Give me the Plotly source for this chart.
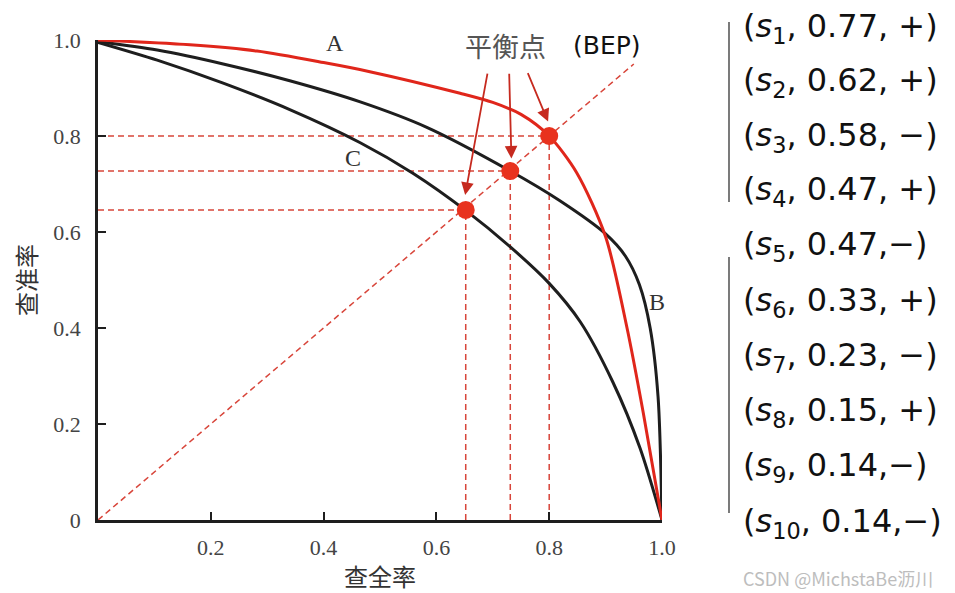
import plotly.graph_objects as go

# PR curves (recall, precision)
recall_a = [0, 0.163, 0.282, 0.4, 0.482, 0.642, 0.70, 0.75, 0.80, 0.849, 0.9, 0.938, 0.967, 1.0]
prec_a = [1.0, 0.99, 0.977, 0.953, 0.934, 0.889, 0.870, 0.845, 0.80, 0.723, 0.59, 0.40, 0.222, 0.0]

recall_b = [0, 0.105, 0.222, 0.34, 0.465, 0.583, 0.731, 0.819, 0.9, 0.935, 0.96, 0.979, 0.993, 1.0]
prec_b = [0.997, 0.979, 0.950, 0.915, 0.871, 0.818, 0.727, 0.665, 0.596, 0.55, 0.49, 0.40, 0.257, 0.0]

recall_c = [0, 0.105, 0.222, 0.34, 0.465, 0.559, 0.653, 0.73, 0.80, 0.855, 0.913, 0.961, 1.0]
prec_c = [0.995, 0.958, 0.910, 0.855, 0.786, 0.722, 0.644, 0.570, 0.493, 0.413, 0.287, 0.15, 0.0]

# break-even points
bep_r = [0.652, 0.731, 0.80]
bep_p = [0.646, 0.727, 0.80]
diag = [0, 0.95]

# ranked samples on the right
sample_ids = [1, 2, 3, 4, 5, 6, 7, 8, 9, 10]
scores = [0.77, 0.62, 0.58, 0.47, 0.47, 0.33, 0.23, 0.15, 0.14, 0.14]
labels = ["+", "+", "−", "+", "−", "+", "−", "+", "−", "−"]
tight = [False, False, False, False, True, False, False, False, True, True]

x_ticks = [0.2, 0.4, 0.6, 0.8, 1.0]
y_ticks = [0, 0.2, 0.4, 0.6, 0.8, 1.0]

RED = "#e0261b"
DRED = "#d8453a"
BLACK = "#1e1e1e"
SERIF = "Liberation Serif"

# plot area in screen pixels: left 98, right 662, top 40, bottom 520
# (the page body adds an 8px margin, so the figure itself is shifted)
L, R, T, B = 98, 662, 40, 520
PAGE = 8


def pp(x, y):
    return (x - L) / (R - L), (B - y) / (B - T)


fig = go.Figure()

# dashed guides
dash = dict(color=DRED, width=1.5, dash="6px,4px")
fig.add_trace(go.Scatter(x=diag, y=diag, mode="lines", line=dash, hoverinfo="skip"))
for r, p in zip(bep_r, bep_p):
    fig.add_trace(go.Scatter(x=[0, r], y=[p, p], mode="lines", line=dash, hoverinfo="skip"))
    fig.add_trace(go.Scatter(x=[r, r], y=[0, p], mode="lines", line=dash, hoverinfo="skip"))

for rx, ry, col in [(recall_c, prec_c, BLACK), (recall_b, prec_b, BLACK), (recall_a, prec_a, RED)]:
    fig.add_trace(go.Scatter(x=rx, y=ry, mode="lines",
                             line=dict(color=col, width=3, shape="spline", smoothing=0.8)))
fig.add_trace(go.Scatter(x=bep_r, y=bep_p, mode="markers", cliponaxis=False,
                         marker=dict(color="#e8321e", size=18)))

# arrows from the BEP caption to each point
heads = [(0.651, 0.677), (0.733, 0.753), (0.798, 0.83)]
tails = [(0.691, 0.933), (0.729, 0.933), (0.761, 0.934)]
for (hx, hy), (tx, ty) in zip(heads, tails):
    fig.add_annotation(x=hx, y=hy, ax=tx, ay=ty, axref="x", ayref="y", text="",
                       showarrow=True, arrowhead=2, arrowsize=1.4, arrowwidth=1.8,
                       arrowcolor="#c62a1f", standoff=0)

ann = []
for txt, (x, y) in [("A", (335, 43)), ("C", (353, 158)), ("B", (657, 302))]:
    px, py = pp(x, y)
    ann.append(dict(x=px, y=py, text=txt, font=dict(family=SERIF, size=24, color="#333")))

px, py = pp(505, 46)
ann.append(dict(x=px, y=py, text="平衡点", font=dict(family="Noto Sans CJK SC", size=27, color="#555")))
px, py = pp(607, 46)
ann.append(dict(x=px, y=py, text="(BEP)", font=dict(family="DejaVu Sans", size=25, color="#111")))

row_y = [28, 82, 137, 191, 246, 302, 357, 412, 467, 523]
for sid, sc, lab, tg, ry in zip(sample_ids, scores, labels, tight, row_y):
    sep = "," if tg else ", "
    txt = f"(<i>s</i><sub>{sid}</sub>, {sc:.2f}{sep}{lab})"
    px, py = pp(741, ry)
    ann.append(dict(x=px, y=py, text=txt, xanchor="left",
                    font=dict(family="DejaVu Sans", size=32, color="#111")))

px, py = pp(838, 578)
ann.append(dict(x=px, y=py, text="CSDN @MichstaBe沥川",
                font=dict(family="Noto Sans CJK SC", size=18, color="#bdbdbd")))

for a in ann:
    a.setdefault("xanchor", "center")
    a.update(xref="paper", yref="paper", yanchor="middle", showarrow=False)
    fig.add_annotation(**a)

# vertical bars beside the list
for y0, y1 in [(22, 202), (257, 513)]:
    x0, py0 = pp(729, y0)
    _, py1 = pp(729, y1)
    fig.add_shape(type="line", xref="paper", yref="paper", x0=x0, x1=x0, y0=py0, y1=py1,
                  line=dict(color="#222", width=1.2))

axis_style = dict(ticks="inside", ticklen=8, tickwidth=2, tickcolor=BLACK,
                  showline=True, linecolor=BLACK, linewidth=2.5, showgrid=False, zeroline=False,
                  tickfont=dict(family=SERIF, size=22, color="#444"), automargin=False)
fig.update_xaxes(range=[0, 1.0], tickvals=x_ticks, ticktext=["0.2", "0.4", "0.6", "0.8", "1.0"],
                 ticklabelstandoff=6,
                 title=dict(text="查全率", font=dict(family="Noto Sans CJK SC", size=24, color="#333"),
                            standoff=12),
                 **axis_style)
fig.update_yaxes(range=[0, 1.0], tickvals=y_ticks, ticktext=["0", "0.2", "0.4", "0.6", "0.8", "1.0"],
                 ticklabelstandoff=10,
                 title=dict(text="查准率", font=dict(family="Noto Sans CJK SC", size=24, color="#333"),
                            standoff=18),
                 **axis_style)

W, H = 955 - PAGE, 593 - PAGE
fig.update_layout(width=W, height=H, showlegend=False,
                  margin=dict(l=L - PAGE, r=W - (R - PAGE), t=T - PAGE, b=H - (B - PAGE)),
                  plot_bgcolor="white", paper_bgcolor="white")

fig.write_html("out.html")
